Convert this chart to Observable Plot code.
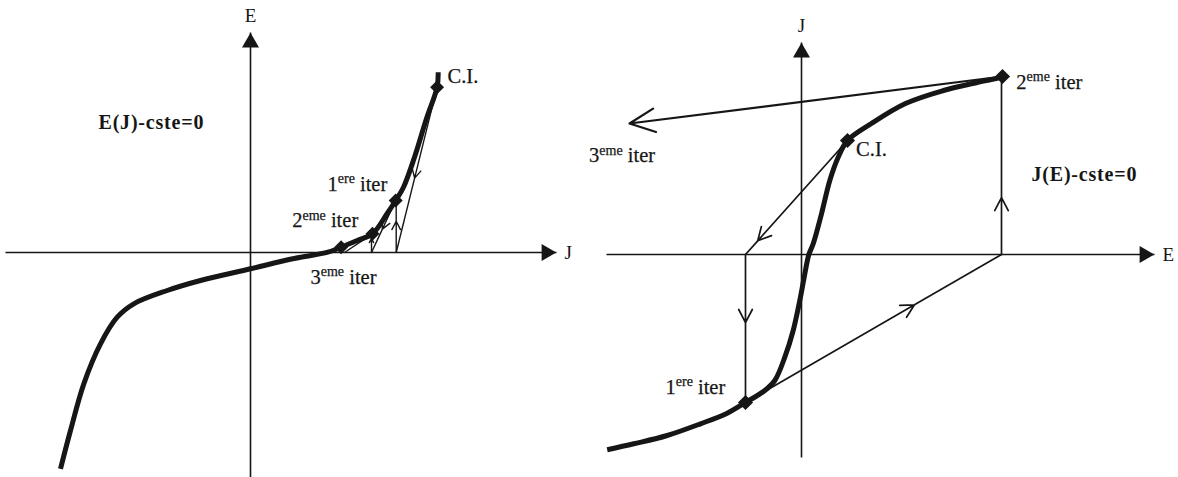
<!DOCTYPE html>
<html><head><meta charset="utf-8">
<script src="https://cdn.jsdelivr.net/npm/d3@7"></script>
<script src="https://cdn.jsdelivr.net/npm/@observablehq/plot@0.6"></script>
<style>
html,body{margin:0;padding:0;background:#fff;}
#wrap{display:flex;width:1178px;height:477px;overflow:hidden;}
#wrap svg{overflow:visible;display:block;}
</style></head><body><div id="wrap"></div>
<script>
// ---------- LEFT PANEL: E(J) - cste = 0 (x = J, y = E) ----------
const leftCurveJ = [-19, -18, -16.67, -15, -13.33, -11.67, -8.33, -5, 0, 4.36, 7.74, 9.06, 10.67, 12.2, 13.67, 14.52, 15.3, 16.4, 17.6, 18.66, 18.77];
const leftCurveE = [-21.63, -17.8, -13.13, -9.13, -6.47, -5.13, -3.8, -2.8, -1.63, -0.6, 0.03, 0.53, 1.2, 1.87, 3.9, 5.2, 6.53, 9.53, 13.4, 16.53, 18.03];
const leftPointJ = [18.66, 14.52, 12.2, 9.06];
const leftPointE = [16.53, 5.2, 1.87, 0.53];
// iteration segments: start J, start E, end J, end E, arrow position (fraction, 0 = none)
const leftSegJ1 = [18.66, 14.57, 14.52, 12.1, 12.2];
const leftSegE1 = [16.53, 0, 5.2, 0, 1.87];
const leftSegJ2 = [14.57, 14.57, 12.1, 12.1, 9.4];
const leftSegE2 = [0, 5.2, 0, 1.87, 0];
const leftSegArrow = [0.55, 0.6, 0.55, 0.75, 0];
const leftLabels = ["C.I.", "1^ere iter", "2^eme iter", "3^eme iter"];
const leftLabelJ = [19.7, 7.7, 4.17, 6.0];
const leftLabelE = [17.0, 6.2, 2.53, -3.1];

// ---------- RIGHT PANEL: J(E) - cste = 0 (x = E, y = J) ----------
const rightCurveE = [-19.43, -16.77, -13.43, -10.1, -7.43, -5.6, -3.67, -2.67, -1.67, -0.83, -0.17, 0.27, 0.73, 1.17, 2.0, 2.83, 3.67, 4.6, 6.99, 10.4, 14.2, 17.66, 20.1, 20.3];
const rightCurveJ = [-19.53, -18.93, -18.1, -16.93, -15.87, -14.8, -13.6, -12.6, -10.27, -7.6, -4.6, -2.27, -0.03, 1.07, 4.07, 7.4, 9.73, 11.4, 13.1, 15.1, 16.4, 17.23, 17.8, 18.1];
const rightPointE = [4.6, -5.6, 20.1];
const rightPointJ = [11.4, -14.8, 17.8];
const rightSegE1 = [4.6, -5.6, -5.6, 20.0, 20.1];
const rightSegJ1 = [11.4, 0, -14.8, 0, 17.8];
const rightSegE2 = [-5.6, -5.6, 20.0, 20.0, -17.2];
const rightSegJ2 = [0, -14.8, 0, 17.8, 13.1];
const rightSegArrow = [0.88, 0.46, 0.66, 0.32, 1];
const rightLabels = ["C.I.", "1^ere iter", "2^eme iter", "3^eme iter"];
const rightLabelE = [5.46, -13.6, 21.48, -21.24];
const rightLabelJ = [9.9, -13.9, 16.6, 9.23];

// ---------- layout ----------
const UNIT = 10;          // pixels per diagram unit
const H = 477;
const INK = "#161616";
const FONT = "Liberation Serif, Times New Roman, serif";

function buildPanel(cfg) {
  const W = cfg.width;
  const xDom = [-cfg.originX / UNIT, (W - cfg.originX) / UNIT];
  const yDom = [-(H - cfg.originY) / UNIT, cfg.originY / UNIT];
  const curve = cfg.cx.map((x, i) => ({x, y: cfg.cy[i]}));
  const pts = cfg.px.map((x, i) => ({x, y: cfg.py[i]}));
  const segs = cfg.sx1.map((x1, i) => {
    const y1 = cfg.sy1[i], x2 = cfg.sx2[i], y2 = cfg.sy2[i], t = cfg.st[i];
    return {x1, y1, x2, y2, t, xm: x1 + (x2 - x1) * t, ym: y1 + (y2 - y1) * t};
  });
  const labels = cfg.labels.map((text, i) => ({text, x: cfg.lx[i], y: cfg.ly[i]}));
  const ax = cfg.axes;
  return Plot.plot({
    width: W, height: H, margin: 0,
    style: {background: "white", overflow: "visible"},
    x: {domain: xDom, axis: null},
    y: {domain: yDom, axis: null},
    marks: [
      // axes
      Plot.link([ax], {x1: d => d.hx1, y1: 0, x2: d => d.hx2, y2: 0, stroke: INK, strokeWidth: 1.6}),
      Plot.link([ax], {x1: 0, y1: d => d.vy1, x2: 0, y2: d => d.vy2, stroke: INK, strokeWidth: 1.6}),
      Plot.dot([ax], {x: 0, y: d => d.vy2, symbol: "triangle", r: 6.3, fill: INK, stroke: "none", dy: 10}),
      Plot.dot([ax], {x: d => d.hx2, y: 0, symbol: "triangle", r: 6.3, fill: INK, stroke: "none", rotate: 90, dx: -10}),
      Plot.text([ax], {x: 0, y: d => d.vy2, text: d => d.vLabel, dy: -11, lineAnchor: "bottom", textAnchor: "middle", fontSize: 19, fontFamily: FONT, fill: INK}),
      Plot.text([ax], {x: d => d.hx2, y: 0, text: d => d.hLabel, dx: 8, textAnchor: "start", lineAnchor: "middle", fontSize: 19, fontFamily: FONT, fill: INK}),
      // iteration path
      Plot.link(segs, {x1: "xm", y1: "ym", x2: "x2", y2: "y2", stroke: INK, strokeWidth: cfg.thin}),
      Plot.arrow(segs.filter(d => d.t > 0 && d.t < 1), {x1: "x1", y1: "y1", x2: "xm", y2: "ym", stroke: INK, strokeWidth: cfg.thin, headLength: cfg.head, headAngle: 55}),
      Plot.arrow(segs.filter(d => d.t >= 1), {x1: "x1", y1: "y1", x2: "x2", y2: "y2", stroke: INK, strokeWidth: cfg.thin + 0.5, headLength: cfg.head + 6, headAngle: 50}),
      // characteristic curve
      Plot.line(curve, {x: "x", y: "y", curve: "catmull-rom", stroke: INK, strokeWidth: 5, strokeLinecap: "butt", strokeLinejoin: "round"}),
      Plot.dot(pts, {x: "x", y: "y", symbol: "diamond2", r: cfg.dotR, fill: INK, stroke: "none"}),
      // labels
      Plot.text(labels, {x: "x", y: "y", text: "text", textAnchor: "start", lineAnchor: "bottom", fontSize: 20.5, fontFamily: FONT, fill: INK, stroke: INK, strokeWidth: 0.25}),
      Plot.text([cfg.title], {x: d => d.x, y: d => d.y, text: d => d.text, textAnchor: "start", lineAnchor: "bottom", fontSize: 20, fontWeight: "bold", fontFamily: FONT, fill: INK})
    ]
  });
}

function supify(svg) {
  d3.select(svg).selectAll("text").each(function() {
    const m = this.textContent.match(/^(\d)\^(\w+)(.*)$/);
    if (!m) return;
    const sel = d3.select(this);
    sel.text(null);
    sel.append("tspan").text(m[1]);
    sel.append("tspan").attr("font-size", 14).attr("dy", -7.5).text(m[2]);
    sel.append("tspan").attr("dy", 7.5).text(m[3]);
  });
  d3.select(svg).selectAll("text").filter(function(){ return this.textContent.includes("cste"); }).style("letter-spacing", "0.8px");
  return svg;
}

const left = buildPanel({
  width: 580, originX: 250, originY: 252,
  cx: leftCurveJ, cy: leftCurveE, px: leftPointJ, py: leftPointE,
  sx1: leftSegJ1, sy1: leftSegE1, sx2: leftSegJ2, sy2: leftSegE2, st: leftSegArrow,
  labels: leftLabels, lx: leftLabelJ, ly: leftLabelE,
  axes: {hx1: -24.5, hx2: 30.6, vy1: -22.5, vy2: 22.0, hLabel: "J", vLabel: "E"},
  title: {text: "E(J)-cste=0", x: -15.2, y: 12.4},
  thin: 1.4, head: 10, dotR: 6.3
});
const right = buildPanel({
  width: 598, originX: 221, originY: 254,
  cx: rightCurveE, cy: rightCurveJ, px: rightPointE, py: rightPointJ,
  sx1: rightSegE1, sy1: rightSegJ1, sx2: rightSegE2, sy2: rightSegJ2, st: rightSegArrow,
  labels: rightLabels, lx: rightLabelE, ly: rightLabelJ,
  axes: {hx1: -19.5, hx2: 35.3, vy1: -20.3, vy2: 21.2, hLabel: "E", vLabel: "J"},
  title: {text: "J(E)-cste=0", x: 23.0, y: 7.4},
  thin: 1.7, head: 13, dotR: 6.8
});
document.getElementById("wrap").append(supify(left), supify(right));
</script></body></html>
